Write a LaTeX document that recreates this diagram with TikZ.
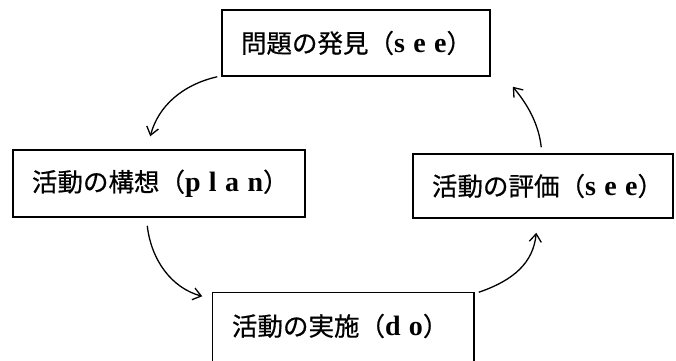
\documentclass[tikz,border=0pt]{standalone}
\usepackage{fontspec}
\setmainfont{Liberation Serif}
\newfontfamily\cjk[FakeBold=0.6]{Noto Sans CJK JP}
\newfontfamily\lat[LetterSpace=30]{Liberation Serif Bold}
\usetikzlibrary{arrows.meta,calc}
\newcommand{\lbl}[2]{{\cjk #1（}{\lat\fontsize{28}{30}\selectfont #2}{\cjk ）}}
\begin{document}
\begin{tikzpicture}[x=1pt,y=-1pt,
  box/.style={line width=1.5pt, inner xsep=19pt, inner ysep=0pt, align=left,
    font=\fontsize{25.5}{28}\selectfont},
  arr/.style={line width=1.3pt, -{Straight Barb[length=8pt,width=12pt]}}]
\useasboundingbox (0,0) rectangle (676,360);
\node[box, draw, text width=230pt, minimum height=66pt] (top) at (356,43) {\lbl{問題の発見}{see}};
\node[box, draw, text width=254pt, minimum height=67pt] (plan) at (159,183.5) {\lbl{活動の構想}{plan}};
\node[box, draw, text width=222pt, minimum height=64pt] (eval) at (543,186) {\lbl{活動の評価}{see}};
\node[box, text width=222pt, minimum height=90pt] (do) at (343,338) {};
\node[box, text width=222pt] (dotext) at (343,326) {\lbl{活動の実施}{do}};
\draw[line width=1.5pt] (do.south west) -- (do.north west) -- (do.north east) -- (do.south east);
% connectors
\coordinate (a1s) at ($(top.south west)+(-4,0)$);
\coordinate (a1e) at ($(plan.north west)+(138,-13)$);
\draw[arr] (a1s) .. controls ($(a1s)+(-35,8)$) and ($(a1e)+(8,-30)$) .. (a1e);
\coordinate (a2s) at ($(plan.south west)+(135,8)$);
\coordinate (a2e) at ($(do.north west)+(-10,4)$);
\draw[arr] (a2s) .. controls ($(a2s)+(4,35)$) and ($(a2e)+(-30,-8)$) .. (a2e);
\coordinate (a3s) at ($(do.north east)+(5,0)$);
\coordinate (a3e) at ($(eval.south west)+(124,14)$);
\draw[arr] (a3s) .. controls ($(a3s)+(35,-12)$) and ($(a3e)+(-3,30)$) .. (a3e);
\coordinate (a4s) at ($(eval.north west)+(129,-6)$);
\coordinate (a4e) at ($(top.south east)+(22,10)$);
\draw[arr] (a4s) .. controls ($(a4s)+(-3,-28)$) and ($(a4e)+(10,12)$) .. (a4e);
\end{tikzpicture}
\end{document}
